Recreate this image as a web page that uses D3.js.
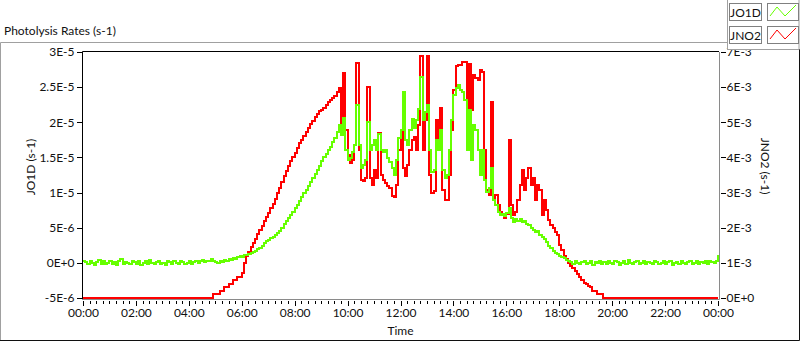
<!DOCTYPE html>
<html>
<head>
<meta charset="utf-8">
<script src="https://cdn.jsdelivr.net/npm/d3@7"></script>
<style>
body { margin: 0; background: #fff; }
svg text { font-family: Lato, "Noto Sans", sans-serif; font-size: 12px; fill: #111; }
</style>
</head>
<body>
<script>
// one reading every 5 minutes, 00:00 -> 24:00
var stepMin = 5;

// JO1D in 1e-6 s-1 (left axis)
var jo1d = [
  0.3, 0.1, -0.2, 0.2, 0.0, -0.3, 0.1, 0.4, -0.1, 0.2,
  -0.2, 0.0, 0.3, -0.1, 0.1, -0.3, 0.2, 0.6, -0.1, 0.1,
  0.0, -0.2, 0.3, 0.1, -0.1, 0.2, -0.3, 0.0, 0.2, -0.1,
  0.4, 0.0, -0.2, 0.1, 0.3, -0.1, 0.0, -0.3, 0.2, 0.1,
  -0.1, 0.2, 0.0, -0.2, 0.3, 0.1, -0.1, 0.0, 0.2, -0.2,
  0.1, 0.3, 0.0, 0.2, 0.4, 0.1, 0.3, 0.2, 0.5, 0.3,
  0.12, -0.02, 0.26, 0.12, 0.41, 0.26, 0.55, 0.41, 0.69, 0.55,
  0.83, 0.98, 0.83, 1.12, 1.12, 1.26, 1.40, 1.54, 1.69, 1.97,
  2.11, 2.40, 2.82, 3.11, 3.25, 3.54, 3.68, 3.96, 4.25, 4.53,
  4.96, 5.53, 5.95, 6.38, 6.81, 7.24, 7.80, 8.23, 8.80, 9.37,
  9.94, 10.37, 10.93, 11.50, 12.07, 12.64, 13.21, 13.78, 14.49, 15.06,
  15.49, 16.06, 16.48, 17.19, 17.76, 18.62,
  19.61, 18.19, 20.61, 16.06, 14.63, 14.92, 15.77, 16.77, 22.46, 16.77,
  13.50, 13.92, 14.63, 20.04, 16.06, 16.77, 17.48, 16.06, 18.33, 16.06,
  15.77, 16.06, 14.92, 14.35, 13.50, 12.50, 14.63, 17.76, 18.90, 24.31,
  17.48, 16.77, 18.90, 20.47, 19.19, 20.32, 21.89, 26.44, 20.32, 21.46,
  22.46, 16.06, 12.93, 13.21, 17.48, 16.06, 18.90, 13.21, 12.07, 12.50,
  16.06, 20.32, 23.88, 24.88, 25.30, 24.59, 24.31, 23.17, 16.06, 21.75,
  14.63, 19.61, 18.90, 16.06, 12.50, 16.06, 11.79, 10.08, 10.65, 13.50,
  8.94, 8.23, 7.24, 6.81, 6.95, 6.67, 7.09, 7.80, 6.38, 5.81,
  6.24, 5.95, 6.24, 5.81, 5.95, 5.53, 5.39, 4.96, 4.67, 4.39,
  4.53, 3.96, 3.68, 3.39, 2.97, 2.40, 2.11, 1.69, 1.40, 1.26,
  0.98, 0.83, 0.69, 0.41, 0.27,
  0.1, -0.1, 0.2, 0.0, -0.2, 0.1, 0.3, -0.1, 0.0, 0.2,
  -0.3, 0.1, 0.0, 0.2, -0.1, 0.1, -0.2, 0.3, 0.0, -0.1,
  0.2, 0.1, -0.3, 0.0, 0.2, -0.1, 0.4, 0.0, -0.2, 0.1,
  0.2, -0.1, 0.0, 0.3, -0.2, 0.1, 0.0, -0.1, 0.2, 0.1,
  -0.2, 0.0, 0.3, -0.1, 0.1, 0.2, -0.3, 0.0, 0.1, -0.1,
  0.2, 0.0, -0.2, 0.1, 0.3, -0.1, 0.0, 0.2, -0.1, 0.1,
  0.0, 0.2, -0.1, 0.3, 0.1, 0.0, 0.2, 1.1
];

// JNO2 in 1e-3 s-1 (right axis)
var jno2 = [
  0, 0, 0, 0, 0, 0, 0, 0, 0, 0,
  0, 0, 0, 0, 0, 0, 0, 0, 0, 0,
  0, 0, 0, 0, 0, 0, 0, 0, 0, 0,
  0, 0, 0, 0, 0, 0, 0, 0, 0, 0,
  0, 0, 0, 0, 0, 0, 0, 0, 0, 0,
  0, 0, 0, 0, 0, 0, 0, 0, 0,
  0.1, 0.1, 0.1, 0.2, 0.2, 0.3, 0.3, 0.4, 0.4, 0.5, 0.5, 0.6, 0.6,
  0.7, 1.0, 1.2, 1.3, 1.45, 1.56, 1.68, 1.82, 1.94, 2.06,
  2.19, 2.31, 2.43, 2.56, 2.67, 2.82, 2.99, 3.14, 3.30, 3.46,
  3.61, 3.76, 3.90, 4.01, 4.14, 4.27, 4.40, 4.51, 4.62, 4.72,
  4.84, 4.95, 5.05, 5.15, 5.25, 5.31, 5.35, 5.41, 5.48, 5.58,
  5.63, 5.69, 5.75, 5.86, 5.98,
  4.92, 6.40, 4.78, 4.07, 3.84, 3.93, 4.35, 6.69, 4.21, 3.36,
  3.33, 3.41, 6.00, 3.41, 3.22, 3.64, 3.41, 4.70, 3.50, 3.36,
  3.27, 3.19, 3.13, 2.90, 2.87, 3.22, 4.21, 4.78, 3.70, 3.47,
  3.78, 4.21, 4.50, 4.58, 4.21, 4.92, 6.89, 4.21, 5.07, 6.89,
  3.50, 2.99, 3.05, 5.07, 4.35, 5.41, 3.07, 2.79, 2.79, 3.50,
  4.78, 5.92, 6.60, 6.63, 6.63, 6.72, 6.72, 5.21, 6.66, 5.35,
  6.35, 6.26, 6.20, 6.49, 6.43, 4.21, 3.07, 2.93, 5.58, 2.79,
  2.93, 2.65, 2.45, 2.36, 2.28, 2.39, 4.50, 2.65, 2.36, 2.45,
  2.79, 3.22, 3.64, 3.07, 3.41, 3.70, 3.22, 3.41, 2.79, 3.22,
  3.07, 2.36, 2.79, 2.50, 2.22, 2.08, 1.99, 1.88, 1.79, 1.51,
  1.37, 1.20, 1.11, 1.00, 0.91, 0.85, 0.77, 0.68, 0.60, 0.51,
  0.43, 0.40, 0.34, 0.30, 0.21, 0.20, 0.11, 0.10, 0.10,
  0, 0, 0, 0, 0, 0, 0, 0, 0, 0,
  0, 0, 0, 0, 0, 0, 0, 0, 0, 0,
  0, 0, 0, 0, 0, 0, 0, 0, 0, 0,
  0, 0, 0, 0, 0, 0, 0, 0, 0, 0,
  0, 0, 0, 0, 0, 0, 0, 0, 0, 0,
  0, 0, 0
];

var leftTicks = [-5e-6, 0, 5e-6, 1e-5, 1.5e-5, 2e-5, 2.5e-5, 3e-5];
var leftTickLabels = ['-5E-6', '0E+0', '5E-6', '1E-5', '1.5E-5', '2E-5', '2.5E-5', '3E-5'];
var rightTicks = [0, 1e-3, 2e-3, 3e-3, 4e-3, 5e-3, 6e-3, 7e-3];
var rightTickLabels = ['0E+0', '1E-3', '2E-3', '3E-3', '4E-3', '5E-3', '6E-3', '7E-3'];
var timeTicks = [0, 120, 240, 360, 480, 600, 720, 840, 960, 1080, 1200, 1320, 1440];
var timeTickLabels = ['00:00', '02:00', '04:00', '06:00', '08:00', '10:00', '12:00',
                      '14:00', '16:00', '18:00', '20:00', '22:00', '00:00'];
var minorStep = 15;

var legendNames = ['JO1D', 'JNO2'];
var colors = { jo1d: '#66ff00', jno2: '#ff0000' };

var W = 800, H = 342;
var pl = 83, pr = 718, pt = 52, pb = 298;

var x = d3.scaleLinear().domain([0, 1440]).range([pl, pr]);
var yL = d3.scaleLinear().domain([-5e-6, 3e-5]).range([pb, pt]);
var yR = d3.scaleLinear().domain([0, 7e-3]).range([pb, pt]);

var svg = d3.select('body').append('svg')
  .attr('width', W)
  .attr('height', H);

svg.append('rect').attr('width', W).attr('height', H).attr('fill', '#fff');

// panel frame
svg.append('path').attr('d', 'M0.5,341 V42.5 H727').attr('fill', 'none').attr('stroke', '#a0a0a0');
svg.append('path').attr('d', 'M0,340.5 H799.5 V49').attr('fill', 'none').attr('stroke', '#101010');

svg.append('text').attr('x', 4).attr('y', 35).text('Photolysis Rates (s-1)');

// plot area
svg.append('defs').append('clipPath').attr('id', 'clip')
  .append('rect').attr('x', pl).attr('y', pt).attr('width', pr - pl + 1).attr('height', pb - pt + 2);

var plot = svg.append('g').attr('clip-path', 'url(#clip)');

var greenPts = jo1d.map(function(v, i) { return { t: i * stepMin, v: v * 1e-6 }; });
var redPts = jno2.map(function(v, i) { return { t: i * stepMin, v: v * 1e-3 }; });

var lineL = d3.line().x(function(d) { return x(d.t); }).y(function(d) { return yL(d.v); }).curve(d3.curveStepAfter);
var lineR = d3.line().x(function(d) { return x(d.t); }).y(function(d) { return yR(d.v); }).curve(d3.curveStepAfter);

plot.append('path').datum(redPts)
  .attr('d', lineR)
  .attr('fill', 'none')
  .attr('stroke', colors.jno2)
  .attr('stroke-width', 2)
  .attr('shape-rendering', 'crispEdges');

plot.append('path').datum(greenPts)
  .attr('d', lineL)
  .attr('fill', 'none')
  .attr('stroke', colors.jo1d)
  .attr('stroke-width', 2)
  .attr('shape-rendering', 'crispEdges');

// plot border: dark top/left, grey right/bottom
svg.append('path').attr('d', 'M82.5,300 V51.5 H719').attr('fill', 'none').attr('stroke', '#000');
svg.append('path').attr('d', 'M719.5,52 V299.5 H82').attr('fill', 'none').attr('stroke', '#8a8a8a');

// axes
function styleAxis(g) {
  g.select('.domain').remove();
  g.selectAll('line').attr('stroke', '#000').attr('shape-rendering', 'crispEdges');
  g.selectAll('text').attr('font-family', null).attr('font-size', null).attr('fill', '#111');
}

svg.append('g')
  .attr('transform', 'translate(81.5,0)')
  .call(d3.axisLeft(yL).tickValues(leftTicks)
    .tickFormat(function(d, i) { return leftTickLabels[i]; })
    .tickSize(5).tickPadding(2))
  .call(styleAxis);

svg.append('g')
  .attr('transform', 'translate(720.5,0)')
  .call(d3.axisRight(yR).tickValues(rightTicks)
    .tickFormat(function(d, i) { return rightTickLabels[i]; })
    .tickSize(5).tickPadding(1))
  .call(styleAxis);

svg.append('g')
  .attr('transform', 'translate(0,300.5)')
  .call(d3.axisBottom(x).tickValues(d3.range(0, 1441, minorStep))
    .tickFormat('').tickSize(3))
  .call(styleAxis);

svg.append('g')
  .attr('transform', 'translate(0,300.5)')
  .call(d3.axisBottom(x).tickValues(timeTicks)
    .tickFormat(function(d, i) { return timeTickLabels[i]; })
    .tickSize(5).tickPadding(3))
  .call(styleAxis);

svg.append('text').attr('x', (pl + pr) / 2).attr('y', 335).attr('text-anchor', 'middle').text('Time');

svg.append('text')
  .attr('transform', 'translate(35,167) rotate(-90)')
  .attr('text-anchor', 'middle')
  .text('JO1D (s-1)');

svg.append('text')
  .attr('transform', 'translate(761,166) rotate(90)')
  .attr('text-anchor', 'middle')
  .text('JNO2 (s-1)');

// legend
var leg = svg.append('g');
leg.append('rect').attr('x', 727.5).attr('y', -1).attr('width', 71.5).attr('height', 50.5)
  .attr('fill', '#fff').attr('stroke', '#a0a0a0');

var item = leg.selectAll('g.item').data(legendNames).enter().append('g')
  .attr('transform', function(d, i) { return 'translate(0,' + (i * 23) + ')'; });

item.append('rect').attr('x', 729.5).attr('y', 3.5).attr('width', 32).attr('height', 17)
  .attr('fill', '#fff').attr('stroke', '#808080');
item.append('text').attr('x', 745.5).attr('y', 16.5).attr('text-anchor', 'middle')
  .text(function(d) { return d; });
item.append('rect').attr('x', 767.5).attr('y', 3.5).attr('width', 31).attr('height', 17)
  .attr('fill', '#fff').attr('stroke', '#808080');
item.append('path')
  .attr('d', 'M770,16 L777,7 L785,16 L796,5')
  .attr('fill', 'none')
  .attr('stroke', function(d, i) { return i === 0 ? colors.jo1d : colors.jno2; })
  .attr('stroke-width', 1);
</script>
</body>
</html>
